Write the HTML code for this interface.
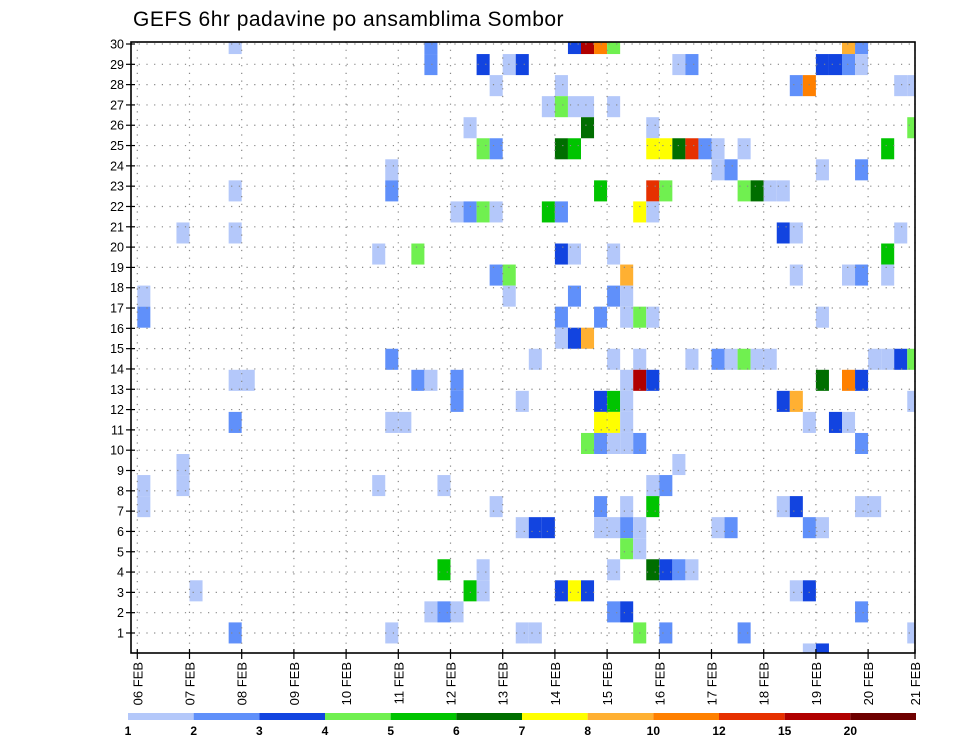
<!DOCTYPE html>
<html><head><meta charset="utf-8"><style>
body{margin:0;background:#fff;width:960px;height:742px;overflow:hidden}
svg{display:block;font-family:"Liberation Sans",sans-serif}
</style></head><body>
<svg id="c" width="960" height="742" viewBox="0 0 960 742">
<text x="133" y="26" font-size="21" letter-spacing="0.5" fill="#000">GEFS 6hr padavine po ansamblima Sombor</text>
</svg>
<script>
// 6-hourly step index, row index from top (0 = member 30), colour level (1..12)
const cellStep=[7,22,33,34,35,36,54,55, 22,26,28,29,41,42,52,53,54,55, 27,32,50,51,58,59, 31,32,33,34,36, 25,34,39,59, 26,27,32,33,39,40,41,42,43,44,46,57, 19,44,45,52,55, 7,19,35,39,40,46,47,48,49, 24,25,26,27,31,32,38,39, 3,7,49,50,58, 18,21,32,33,36,57, 27,28,37,50,54,55,57, 0,28,33,36,37, 0,32,35,37,38,39,52, 32,33,34, 19,30,36,38,42,44,45,46,47,48,56,57,58,59, 7,8,21,22,24,37,38,39,52,54,55, 24,29,35,36,37,49,50,59, 7,19,20,35,36,37,51,53,54, 34,35,36,37,38,55, 3,41, 0,3,18,23,39,40, 0,27,35,37,39,49,50,55,56, 29,30,31,35,36,37,38,44,45,51,52, 37,38, 23,26,36,39,40,41,42, 4,25,26,32,33,34,50,51, 22,23,24,36,37,55, 7,19,29,30,38,40,46,59, 51,52];
const cellRow=[0,0,0,0,0,0,0,0, 1,1,1,1,1,1,1,1,1,1, 2,2,2,2,2,2, 3,3,3,3,3, 4,4,4,4, 5,5,5,5,5,5,5,5,5,5,5,5, 6,6,6,6,6, 7,7,7,7,7,7,7,7,7, 8,8,8,8,8,8,8,8, 9,9,9,9,9, 10,10,10,10,10,10, 11,11,11,11,11,11,11, 12,12,12,12,12, 13,13,13,13,13,13,13, 14,14,14, 15,15,15,15,15,15,15,15,15,15,15,15,15,15, 16,16,16,16,16,16,16,16,16,16,16, 17,17,17,17,17,17,17,17, 18,18,18,18,18,18,18,18,18, 19,19,19,19,19,19, 20,20, 21,21,21,21,21,21, 22,22,22,22,22,22,22,22,22, 23,23,23,23,23,23,23,23,23,23,23, 24,24, 25,25,25,25,25,25,25, 26,26,26,26,26,26,26,26, 27,27,27,27,27,27, 28,28,28,28,28,28,28,28, 29,29];
const cellLevel=[1,2,3,11,9,4,8,2, 2,3,1,3,1,2,3,3,2,1, 1,1,2,9,1,1, 1,4,1,1,1, 1,6,1,4, 4,2,6,5,7,7,6,10,2,1,1,5, 1,1,2,1,2, 1,2,5,10,4,4,6,1,1, 1,2,4,1,5,2,7,1, 1,1,3,1,1, 1,4,3,1,1,5, 2,4,8,1,1,2,1, 1,1,2,2,1, 2,2,2,1,4,1,1, 1,3,8, 2,1,1,1,1,2,1,4,1,1,1,1,3,4, 1,1,2,1,2,1,11,3,6,9,3, 2,1,3,5,1,3,8,1, 2,1,1,7,7,1,1,3,1, 4,2,1,1,2,2, 1,1, 1,1,1,1,1,2, 1,1,2,1,5,1,3,1,1, 1,3,3,1,1,2,1,1,2,2,1, 4,1, 5,1,1,6,3,2,1, 1,5,1,3,7,3,1,3, 1,2,1,2,3,2, 2,1,1,1,4,2,2,1, 1,3];
const dayLabels=["06 FEB","07 FEB","08 FEB","09 FEB","10 FEB","11 FEB","12 FEB","13 FEB","14 FEB","15 FEB","16 FEB","17 FEB","18 FEB","19 FEB","20 FEB","21 FEB"];
const yLabels=[1,2,3,4,5,6,7,8,9,10,11,12,13,14,15,16,17,18,19,20,21,22,23,24,25,26,27,28,29,30];
const barLabels=["1","2","3","4","5","6","7","8","10","12","15","20"];
const palette=["#b4c8fa","#6090fa","#1244e0","#70f050","#00c400","#006e00","#ffff00","#ffb032","#ff8000","#e63000","#b00000","#6e0000"];

const NS="http://www.w3.org/2000/svg",svg=document.getElementById("c");
function mk(t,a,p){const e=document.createElementNS(NS,t);for(const k in a)e.setAttribute(k,a[k]);(p||svg).appendChild(e);return e;}
const L=131,R=915,T=42,B=653;
const x0=137.3,stepW=13.05;
const xStep=s=>x0+s*stepW, xDay=d=>Math.min(x0+d*4*stepW,R);
const yRowTop=r=>33+r*21.05;
const yLab=v=>44+(30-v)*20.31;

const clip=mk("clipPath",{id:"pc"});mk("rect",{x:L,y:T,width:R-L,height:B-T},clip);
const cells=mk("g",{"clip-path":"url(#pc)"});


for(let i=0;i<cellStep.length;i++){
  const r=mk("rect",{x:xStep(cellStep[i]),y:yRowTop(cellRow[i]),width:stepW,height:21.05,fill:palette[cellLevel[i]-1]},cells);
  
  
}
const grid=mk("g",{stroke:"#888","stroke-width":"1.2","stroke-dasharray":"1.2,6.5"});


yLabels.forEach(v=>{mk("line",{x1:L,x2:R,y1:yLab(v),y2:yLab(v)},grid);});
dayLabels.forEach((d,i)=>{mk("line",{x1:xDay(i),x2:xDay(i),y1:T,y2:B},grid);});
const fr=mk("rect",{x:L,y:T,width:R-L,height:B-T,fill:"none",stroke:"#000","stroke-width":"1.6"});


yLabels.forEach(v=>{
  mk("line",{x1:L-5,x2:L+4,y1:yLab(v),y2:yLab(v),stroke:"#000","stroke-width":"1.2"});
  const t=mk("text",{x:L-7,y:yLab(v)+4.5,"font-size":"12.5","text-anchor":"end"});t.textContent=v;
  
  
});
dayLabels.forEach((d,i)=>{
  const x=xDay(i);
  mk("line",{x1:x,x2:x,y1:B-4,y2:B+6,stroke:"#000","stroke-width":"1.2"});
  const t=mk("text",{x:0,y:0,"font-size":"13","text-anchor":"end",transform:`translate(${x+5},${B+9}) rotate(-90)`});t.textContent=d;
  
  
});
const cb0=128,cbW=(916-128)/12;
palette.forEach((c,i)=>{
  const r=mk("rect",{x:cb0+i*cbW,y:713,width:cbW,height:7,fill:c});
  
  
});
barLabels.forEach((s,i)=>{
  const t=mk("text",{x:cb0+i*cbW,y:735,"font-size":"12","text-anchor":"middle","font-weight":"bold"});t.textContent=s;
  
  
});
</script>
</body></html>
